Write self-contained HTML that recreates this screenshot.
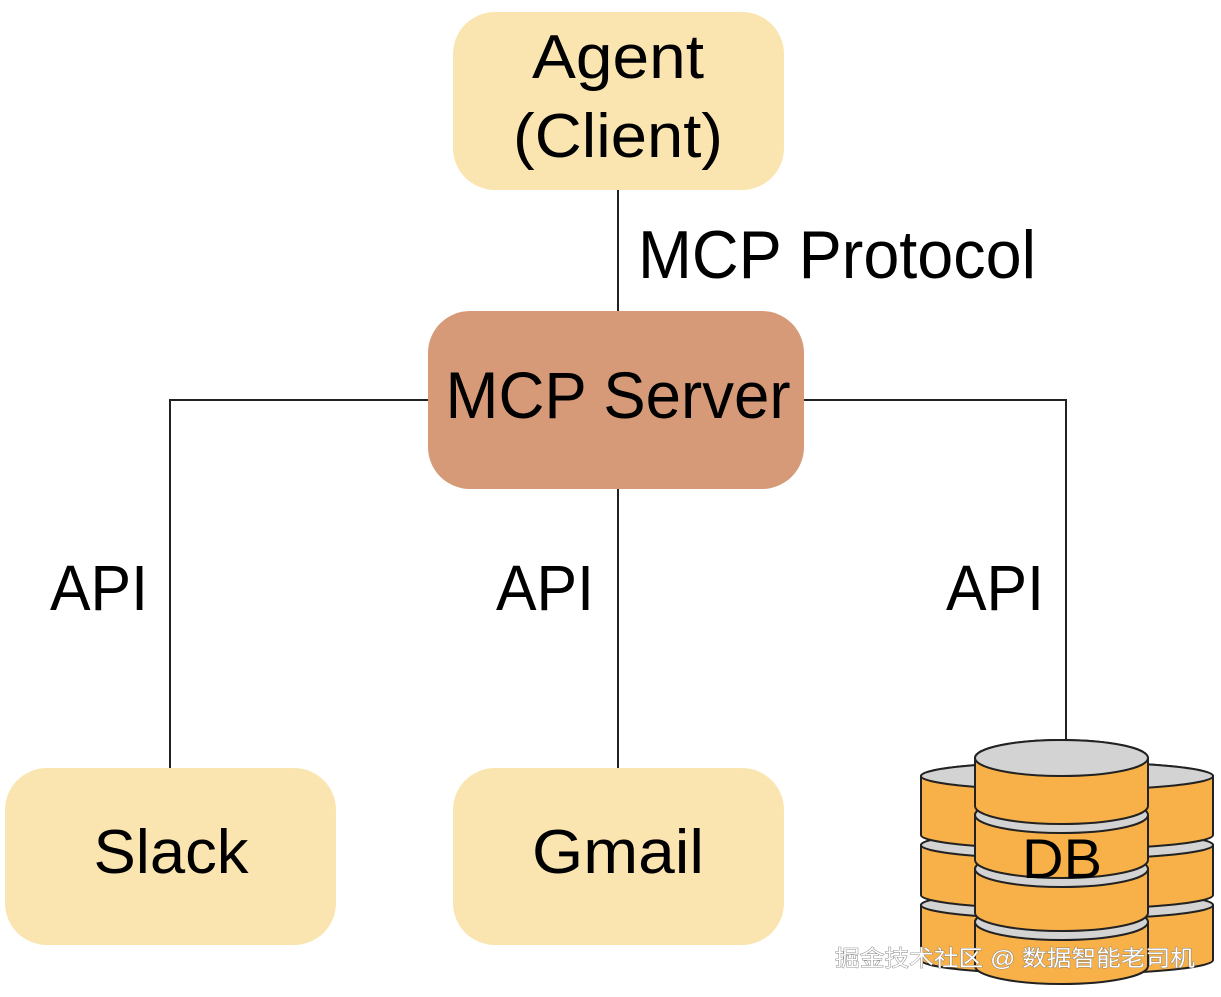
<!DOCTYPE html>
<html><head><meta charset="utf-8"><style>
html,body{margin:0;padding:0;background:#fff;}
svg{display:block;}
text{font-family:"Liberation Sans","Noto Sans CJK SC",sans-serif;fill:#000;}
</style></head><body>
<svg width="1221" height="997" viewBox="0 0 1221 997" xmlns="http://www.w3.org/2000/svg">
<g stroke="#222" stroke-width="2" fill="none">
<line x1="618" y1="190" x2="618" y2="312"/>
<polyline points="428,400 170,400 170,768"/>
<polyline points="804,400 1066,400 1066,742"/>
<line x1="618" y1="489" x2="618" y2="772"/>
</g>
<rect x="453" y="12" width="331" height="178" rx="42" fill="#fae5b0"/>
<rect x="428" y="311" width="376" height="178" rx="42" fill="#d69a78"/>
<rect x="5" y="768" width="331" height="177" rx="42" fill="#fae5b0"/>
<rect x="453" y="768" width="331" height="177" rx="42" fill="#fae5b0"/>
<text x="618" y="78" font-size="62" text-anchor="middle" textLength="172" lengthAdjust="spacingAndGlyphs">Agent</text>
<text x="618" y="157" font-size="62" text-anchor="middle" textLength="210" lengthAdjust="spacingAndGlyphs">(Client)</text>
<text x="638" y="278" font-size="68" textLength="398" lengthAdjust="spacingAndGlyphs">MCP Protocol</text>
<text x="618" y="418" font-size="66" text-anchor="middle" textLength="345" lengthAdjust="spacingAndGlyphs">MCP Server</text>
<text x="50" y="610" font-size="64" textLength="98" lengthAdjust="spacingAndGlyphs">API</text>
<text x="496" y="610" font-size="64" textLength="98" lengthAdjust="spacingAndGlyphs">API</text>
<text x="946" y="610" font-size="64" textLength="98" lengthAdjust="spacingAndGlyphs">API</text>
<text x="171" y="873" font-size="62" text-anchor="middle" textLength="155" lengthAdjust="spacingAndGlyphs">Slack</text>
<text x="618" y="873" font-size="62" text-anchor="middle" textLength="172" lengthAdjust="spacingAndGlyphs">Gmail</text>
<g stroke="#222" stroke-width="2">
<!-- back stack: bottom to top -->
<path d="M921 905 A146 14 0 0 1 1213 905 L1213 960 A146 14 0 0 1 921 960 Z" fill="#f8b048"/>
<ellipse cx="1067" cy="905" rx="146" ry="14" fill="#d3d3d3"/>
<path d="M921 845 A146 14 0 0 1 1213 845 L1213 895 A146 14 0 0 1 921 895 Z" fill="#f8b048"/>
<ellipse cx="1067" cy="845" rx="146" ry="14" fill="#d3d3d3"/>
<path d="M921 776 A146 14 0 0 1 1213 776 L1213 835 A146 14 0 0 1 921 835 Z" fill="#f8b048"/>
<ellipse cx="1067" cy="776" rx="146" ry="14" fill="#d3d3d3"/>
<!-- front stack -->
<path d="M975 922 A86.5 18 0 0 1 1148 922 L1148 966 A86.5 18 0 0 1 975 966 Z" fill="#f8b048"/>
<ellipse cx="1061.5" cy="922" rx="86.5" ry="18" fill="#d3d3d3"/>
<path d="M975 869 A86.5 18 0 0 1 1148 869 L1148 913 A86.5 18 0 0 1 975 913 Z" fill="#f8b048"/>
<ellipse cx="1061.5" cy="869" rx="86.5" ry="18" fill="#d3d3d3"/>
<path d="M975 815 A86.5 18 0 0 1 1148 815 L1148 860 A86.5 18 0 0 1 975 860 Z" fill="#f8b048"/>
<ellipse cx="1061.5" cy="815" rx="86.5" ry="18" fill="#d3d3d3"/>
<path d="M975 758 A86.5 18 0 0 1 1148 758 L1148 806 A86.5 18 0 0 1 975 806 Z" fill="#f8b048"/>
<ellipse cx="1061.5" cy="758" rx="86.5" ry="18" fill="#d3d3d3"/>
</g>
<text x="1062" y="878" font-size="56" text-anchor="middle" textLength="80" lengthAdjust="spacingAndGlyphs">DB</text>
<text x="835" y="966" font-size="22" textLength="360" lengthAdjust="spacingAndGlyphs" style="fill:#fff;stroke:#777;stroke-width:0.8;paint-order:stroke">掘金技术社区 @ 数据智能老司机</text>
</svg>
</body></html>
